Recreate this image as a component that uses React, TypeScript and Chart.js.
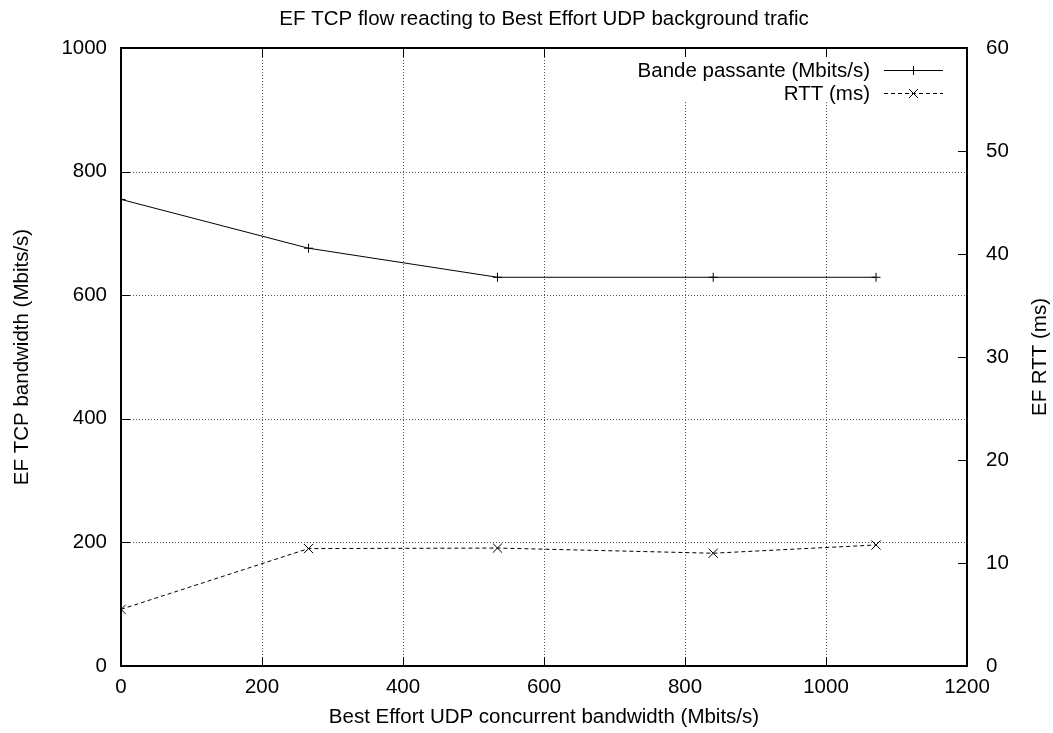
import React, { useEffect, useRef } from "react";
import { Chart, registerables } from "chart.js";

Chart.register(...registerables);

const TITLE = "EF TCP flow reacting to Best Effort UDP background trafic";
const X_TITLE = "Best Effort UDP concurrent bandwidth (Mbits/s)";
const Y_TITLE = "EF TCP bandwidth (Mbits/s)";
const Y2_TITLE = "EF RTT (ms)";

const xValues = [0, 266, 534, 840, 1071];
const bandwidth = [755, 676, 629, 629, 629];
const rtt = [5.5, 11.4, 11.45, 10.95, 11.75];

const bandwidthLabel = "Bande passante (Mbits/s)";
const rttLabel = "RTT (ms)";

const FONT = '20.5px "Liberation Sans", Arial, sans-serif';

export default function App() {
  const ref = useRef<HTMLCanvasElement | null>(null);

  useEffect(() => {
    const canvas = ref.current;
    if (!canvas) return;

    const gridPlugin = {
      id: "gnuGrid",
      beforeDatasetsDraw(chart: any) {
        const { ctx, chartArea: a, scales } = chart;
        ctx.save();
        ctx.strokeStyle = "#555";
        ctx.lineWidth = 1;
        ctx.setLineDash([1, 2]);
        const xs = scales.x;
        xs.ticks.forEach((t: any) => {
          const px = Math.round(xs.getPixelForValue(t.value)) + 0.5;
          ctx.beginPath();
          ctx.moveTo(px, a.top);
          ctx.lineTo(px, a.bottom);
          ctx.stroke();
        });
        const ys = scales.y;
        ys.ticks.forEach((t: any) => {
          const py = Math.round(ys.getPixelForValue(t.value)) + 0.5;
          ctx.beginPath();
          ctx.moveTo(a.left, py);
          ctx.lineTo(a.right, py);
          ctx.stroke();
        });
        ctx.restore();
      },
      afterDatasetsDraw(chart: any) {
        const { ctx, chartArea: a, scales } = chart;
        ctx.save();
        // legend background
        ctx.fillStyle = "#fff";
        ctx.fillRect(630, 56, 322, 46);

        // legend entries
        const ds = chart.data.datasets;
        const entries = [
          { label: ds[0].label, y: 70, dash: [] as number[], style: "plus" },
          { label: ds[1].label, y: 93, dash: [4, 3], style: "x" },
        ];
        entries.forEach((e) => {
          ctx.font = FONT;
          ctx.fillStyle = "#000";
          ctx.textAlign = "right";
          ctx.textBaseline = "middle";
          ctx.fillText(e.label, 870, e.y + 1);
          ctx.strokeStyle = "#000";
          ctx.lineWidth = 1;
          ctx.setLineDash(e.dash);
          ctx.beginPath();
          ctx.moveTo(884, e.y + 0.5);
          ctx.lineTo(943, e.y + 0.5);
          ctx.stroke();
          ctx.setLineDash([]);
          const cx = 913.5;
          const cy = e.y + 0.5;
          ctx.beginPath();
          if (e.style === "plus") {
            ctx.moveTo(cx - 4.5, cy);
            ctx.lineTo(cx + 4.5, cy);
            ctx.moveTo(cx, cy - 4.5);
            ctx.lineTo(cx, cy + 4.5);
          } else {
            ctx.moveTo(cx - 4.5, cy - 4.5);
            ctx.lineTo(cx + 4.5, cy + 4.5);
            ctx.moveTo(cx - 4.5, cy + 4.5);
            ctx.lineTo(cx + 4.5, cy - 4.5);
          }
          ctx.stroke();
        });

        // border
        ctx.setLineDash([]);
        ctx.strokeStyle = "#000";
        ctx.lineWidth = 2;
        ctx.strokeRect(a.left, a.top, a.right - a.left, a.bottom - a.top);

        // inward ticks
        const TL = 9;
        ctx.lineWidth = 1;
        const xs = scales.x;
        xs.ticks.forEach((t: any) => {
          const px = Math.round(xs.getPixelForValue(t.value)) + 0.5;
          ctx.beginPath();
          ctx.moveTo(px, a.bottom);
          ctx.lineTo(px, a.bottom - TL);
          ctx.moveTo(px, a.top);
          ctx.lineTo(px, a.top + TL);
          ctx.stroke();
        });
        const ys = scales.y;
        ys.ticks.forEach((t: any) => {
          const py = Math.round(ys.getPixelForValue(t.value)) + 0.5;
          ctx.beginPath();
          ctx.moveTo(a.left, py);
          ctx.lineTo(a.left + TL, py);
          ctx.stroke();
        });
        const y2 = scales.y2;
        y2.ticks.forEach((t: any) => {
          const py = Math.round(y2.getPixelForValue(t.value)) + 0.5;
          ctx.beginPath();
          ctx.moveTo(a.right, py);
          ctx.lineTo(a.right - TL, py);
          ctx.stroke();
        });

        // titles
        ctx.font = FONT;
        ctx.fillStyle = "#000";
        ctx.textAlign = "center";
        ctx.textBaseline = "middle";
        const midX = (a.left + a.right) / 2;
        const midY = (a.top + a.bottom) / 2;
        ctx.fillText(TITLE, midX, 19);
        ctx.fillText(X_TITLE, midX, 717);

        ctx.save();
        ctx.translate(22.5, midY);
        ctx.rotate(-Math.PI / 2);
        ctx.fillText(Y_TITLE, 0, 0);
        ctx.restore();

        ctx.save();
        ctx.translate(1040, midY);
        ctx.rotate(-Math.PI / 2);
        ctx.fillText(Y2_TITLE, 0, 0);
        ctx.restore();

        ctx.restore();
      },
    };

    const tickFont = { family: '"Liberation Sans", Arial, sans-serif', size: 20.5 };
    const plain = (v: any) => String(v);

    const chart = new Chart(canvas, {
      type: "line",
      data: {
        datasets: [
          {
            label: bandwidthLabel,
            data: xValues.map((x, i) => ({ x, y: bandwidth[i] })),
            yAxisID: "y",
            borderColor: "#000",
            backgroundColor: "#000",
            borderWidth: 1,
            pointStyle: "cross",
            pointRadius: 4.5,
            pointBorderColor: "#000",
            pointBorderWidth: 1,
            fill: false,
            tension: 0,
          },
          {
            label: rttLabel,
            data: xValues.map((x, i) => ({ x, y: rtt[i] })),
            yAxisID: "y2",
            borderColor: "#000",
            backgroundColor: "#000",
            borderWidth: 1,
            borderDash: [4, 3],
            pointStyle: "crossRot",
            pointRadius: 6.5,
            pointBorderColor: "#000",
            pointBorderWidth: 1,
            fill: false,
            tension: 0,
          },
        ],
      },
      options: {
        animation: false,
        responsive: false,
        devicePixelRatio: 1,
        layout: { padding: { top: 48, left: 0, right: 0, bottom: 0 } },
        plugins: {
          legend: { display: false },
          title: { display: false },
          tooltip: { enabled: false },
        },
        scales: {
          x: {
            type: "linear",
            position: "bottom",
            min: 0,
            max: 1200,
            ticks: {
              stepSize: 200,
              color: "#000",
              font: tickFont,
              padding: 9,
              maxRotation: 0,
              autoSkip: false,
              callback: plain,
            },
            grid: { display: false, drawTicks: false },
            border: { display: false },
            afterFit: (s: any) => {
              s.height = 67;
            },
          },
          y: {
            type: "linear",
            position: "left",
            min: 0,
            max: 1000,
            ticks: {
              stepSize: 200,
              color: "#000",
              font: tickFont,
              padding: 14,
              autoSkip: false,
              callback: plain,
            },
            grid: { display: false, drawTicks: false },
            border: { display: false },
            afterFit: (s: any) => {
              s.width = 121;
            },
          },
          y2: {
            type: "linear",
            position: "right",
            min: 0,
            max: 60,
            ticks: {
              stepSize: 10,
              color: "#000",
              font: tickFont,
              padding: 19,
              autoSkip: false,
              callback: plain,
            },
            grid: { display: false, drawTicks: false },
            border: { display: false },
            afterFit: (s: any) => {
              s.width = 86;
            },
          },
        },
      },
      plugins: [gridPlugin],
    } as any);

    return () => {
      chart.destroy();
    };
  }, []);

  return (
    <div
      style={{
        position: "absolute",
        left: 0,
        top: 0,
        width: 1053,
        height: 733,
        background: "#fff",
      }}
    >
      <canvas ref={ref} width={1053} height={733} style={{ display: "block" }} />
    </div>
  );
}
